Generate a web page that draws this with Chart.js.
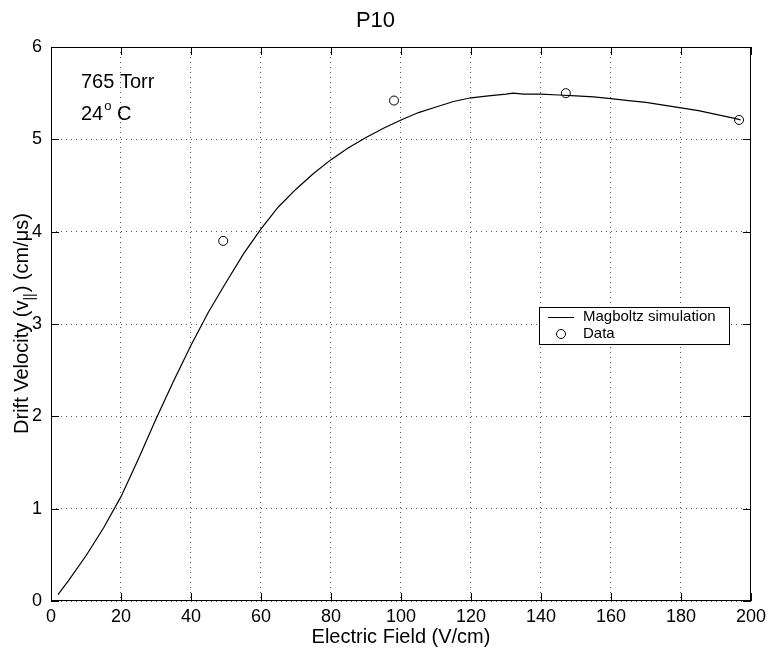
<!DOCTYPE html>
<html>
<head>
<meta charset="utf-8">
<title>P10 drift velocity</title>
<script src="https://cdn.jsdelivr.net/npm/chart.js@4.4.1/dist/chart.umd.min.js"></script>
<style>
  html, body { margin: 0; padding: 0; background: #fff; }
  #wrap { width: 771px; height: 656px; }
</style>
</head>
<body>
<div id="wrap"><canvas id="chart" width="771" height="656"></canvas></div>
<script>
// Magboltz simulation curve
const simField = [2, 5, 10, 15, 20, 25, 30, 35, 40, 45, 50, 55, 60, 65, 70, 75, 80, 85, 90, 95,
                  100, 105, 110, 115, 120, 125, 130, 132, 135, 140, 145, 150, 155, 160, 165, 170,
                  175, 180, 185, 190, 195, 197];
const simVelocity = [0.07, 0.22, 0.49, 0.79, 1.13, 1.54, 1.97, 2.38, 2.77, 3.13, 3.45, 3.76, 4.03,
                     4.27, 4.46, 4.63, 4.78, 4.91, 5.02, 5.12, 5.21, 5.29, 5.35, 5.41, 5.45, 5.47,
                     5.49, 5.50, 5.49, 5.49, 5.48, 5.47, 5.46, 5.44, 5.42, 5.40, 5.37, 5.34, 5.31,
                     5.27, 5.23, 5.21];

// measured points
const dataField = [49.2, 98.0, 147.1, 196.6];
const dataVelocity = [3.90, 5.42, 5.50, 5.21];

const xTicks = [0, 20, 40, 60, 80, 100, 120, 140, 160, 180, 200];
const yTicks = [0, 1, 2, 3, 4, 5, 6];

const FONT = "'Liberation Sans', Arial, Helvetica, sans-serif";
Chart.defaults.font.family = FONT;
Chart.defaults.color = '#000';

const simPoints = simField.map((x, i) => ({ x: x, y: simVelocity[i] }));
const dataPoints = dataField.map((x, i) => ({ x: x, y: dataVelocity[i] }));

// box, inward ticks, legend and text labels (MATLAB look)
const decor = {
    id: 'decor',
    afterDraw(chart) {
        const ctx = chart.ctx;
        const a = chart.chartArea;
        const xs = chart.scales.x;
        const ys = chart.scales.y;
        const tick = 8;

        ctx.save();
        ctx.strokeStyle = '#000';
        ctx.lineWidth = 1;
        ctx.strokeRect(a.left + 0.5, a.top + 0.5, a.right - a.left - 1, a.bottom - a.top - 1);

        ctx.beginPath();
        xTicks.forEach(v => {
            const px = Math.round(xs.getPixelForValue(v)) + 0.5;
            ctx.moveTo(px, a.bottom); ctx.lineTo(px, a.bottom - tick);
            ctx.moveTo(px, a.top); ctx.lineTo(px, a.top + tick);
        });
        yTicks.forEach(v => {
            const py = Math.round(ys.getPixelForValue(v)) + 0.5;
            ctx.moveTo(a.left, py); ctx.lineTo(a.left + tick, py);
            ctx.moveTo(a.right, py); ctx.lineTo(a.right - tick, py);
        });
        ctx.stroke();

        // legend
        const ds = chart.data.datasets;
        ctx.fillStyle = '#fff';
        ctx.fillRect(539, 307, 190, 37);
        ctx.strokeRect(539.5, 307.5, 190, 37);
        ctx.font = '15px ' + FONT;
        ctx.fillStyle = '#000';
        ctx.textBaseline = 'middle';
        ctx.beginPath();
        ctx.moveTo(548, 317.5); ctx.lineTo(574, 317.5);
        ctx.stroke();
        ctx.fillText(ds[0].label, 583, 317);
        ctx.beginPath();
        ctx.arc(561, 334, 4.5, 0, Math.PI * 2);
        ctx.stroke();
        ctx.fillText(ds[1].label, 583, 334);

        // conditions
        ctx.textBaseline = 'alphabetic';
        ctx.font = '20px ' + FONT;
        ctx.fillText('765 Torr', 81, 88);
        ctx.fillText('24', 81, 120);
        let w = ctx.measureText('24').width;
        ctx.font = '13px ' + FONT;
        ctx.fillText('o', 82 + w, 110);
        w += ctx.measureText('o').width;
        ctx.font = '20px ' + FONT;
        ctx.fillText(' C', 82 + w, 120);

        // y axis title with subscript
        ctx.translate(22, (a.top + a.bottom) / 2);
        ctx.rotate(-Math.PI / 2);
        const p1 = 'Drift Velocity (v', sub = '||', p2 = ') (cm/\u03bcs)';
        ctx.font = '20px ' + FONT;
        const w1 = ctx.measureText(p1).width, w3 = ctx.measureText(p2).width;
        ctx.font = '14px ' + FONT;
        const w2 = ctx.measureText(sub).width;
        let x0 = -(w1 + w2 + w3) / 2;
        ctx.textBaseline = 'middle';
        ctx.font = '20px ' + FONT;
        ctx.fillText(p1, x0, 0);
        ctx.font = '14px ' + FONT;
        ctx.fillText(sub, x0 + w1, 8);
        ctx.font = '20px ' + FONT;
        ctx.fillText(p2, x0 + w1 + w2 + 1, 0);
        ctx.restore();
    }
};

new Chart(document.getElementById('chart'), {
    type: 'scatter',
    data: {
        datasets: [{
            label: 'Magboltz simulation',
            data: simPoints,
            showLine: true,
            borderColor: '#000',
            borderWidth: 1.2,
            pointRadius: 0,
            tension: 0
        }, {
            label: 'Data',
            data: dataPoints,
            showLine: false,
            borderColor: '#000',
            backgroundColor: 'rgba(0,0,0,0)',
            borderWidth: 1,
            pointRadius: 4.5,
            pointStyle: 'circle'
        }]
    },
    options: {
        responsive: false,
        animation: false,
        layout: { padding: { left: 0, right: 20, top: 0, bottom: 0 } },
        plugins: {
            legend: { display: false },
            tooltip: { enabled: false },
            title: {
                display: true,
                text: 'P10',
                color: '#000',
                font: { size: 22, weight: 'normal' },
                padding: { top: 8, bottom: 12.6 }
            }
        },
        scales: {
            x: {
                type: 'linear',
                min: 0,
                max: 200,
                afterBuildTicks: s => { s.ticks = xTicks.map(v => ({ value: v })); },
                afterFit: s => { s.height = 55; },
                border: { display: false, dash: [1, 4] },
                grid: { color: '#555', drawTicks: false, lineWidth: 1 },
                ticks: { font: { size: 18 }, padding: 5, maxRotation: 0 },
                title: {
                    display: true,
                    text: 'Electric Field (V/cm)',
                    font: { size: 20 },
                    padding: { top: 0, bottom: 7 }
                }
            },
            y: {
                type: 'linear',
                min: 0,
                max: 6,
                afterBuildTicks: s => { s.ticks = yTicks.map(v => ({ value: v })); },
                afterFit: s => { s.width = 51; },
                border: { display: false, dash: [1, 4] },
                grid: { color: '#555', drawTicks: false, lineWidth: 1 },
                ticks: { font: { size: 18 }, padding: 9 }
            }
        }
    },
    plugins: [decor]
});
</script>
</body>
</html>
